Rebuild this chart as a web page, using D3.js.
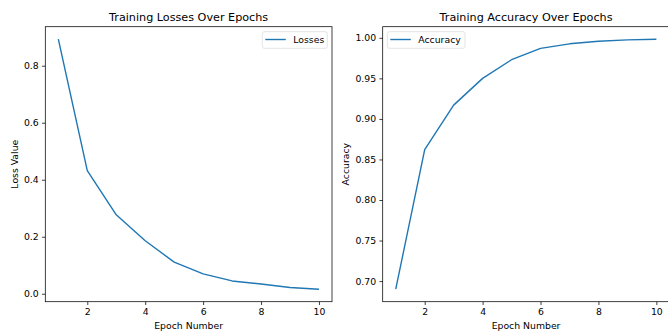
<!DOCTYPE html>
<html><head><meta charset="utf-8">
<script src="https://cdn.jsdelivr.net/npm/d3@7"></script>
<style>body{margin:0;background:#fff;overflow:hidden}svg{display:block}</style>
</head><body>
<svg id="c" width="668" height="333"></svg>
<script>
const epochs = [1,2,3,4,5,6,7,8,9,10];
const losses = [0.893,0.432,0.277,0.186,0.111,0.070,0.045,0.034,0.022,0.016];
const accuracy = [0.690,0.862,0.917,0.950,0.973,0.987,0.9926,0.9958,0.9975,0.9983];
const xTicks = [2,4,6,8,10];
const lossTicks = [0.0,0.2,0.4,0.6,0.8];
const accTicks = [0.70,0.75,0.80,0.85,0.90,0.95,1.00];

const svg = d3.select("#c");
const FONT = "DejaVu Sans, sans-serif";
const color = "#1f77b4";

function pad(ext){const r=ext[1]-ext[0];return [ext[0]-0.05*r, ext[1]+0.05*r];}

function panel(opt){
  const {left,right,top,bottom,ys,yTicks,yFmt,title,ylabel,legend,legendPos,yLabelX} = opt;
  const g = svg.append("g");
  const x = d3.scaleLinear().domain(pad(d3.extent(epochs))).range([left,right]);
  const y = d3.scaleLinear().domain(pad(d3.extent(ys))).range([bottom,top]);
  // line
  g.append("path").datum(epochs.map((e,i)=>[e,ys[i]]))
    .attr("d", d3.line().x(d=>x(d[0])).y(d=>y(d[1])))
    .attr("fill","none").attr("stroke",color).attr("stroke-width",1.4)
    .attr("stroke-linejoin","round").attr("stroke-linecap","butt");
  // axes
  const xa = g.append("g").attr("transform",`translate(0,${bottom})`)
    .call(d3.axisBottom(x).tickValues(xTicks).tickSize(3.3).tickPadding(3.3).tickFormat(d3.format("d")));
  const ya = g.append("g").attr("transform",`translate(${left},0)`)
    .call(d3.axisLeft(y).tickValues(yTicks).tickSize(3.3).tickPadding(3.3).tickFormat(d3.format(yFmt)));
  [xa,ya].forEach(a=>{
    a.select(".domain").remove();
    a.selectAll("line").attr("stroke","#000").attr("stroke-width",0.75);
    a.selectAll("text").attr("font-family",FONT).attr("font-size",9.3).attr("fill","#000");
  });
  // frame
  g.append("rect").attr("x",left).attr("y",top).attr("width",right-left).attr("height",bottom-top)
    .attr("fill","none").attr("stroke","#000").attr("stroke-width",0.75);
  // title
  g.append("text").attr("x",(left+right)/2).attr("y",top-6).attr("text-anchor","middle")
    .attr("font-family",FONT).attr("font-size",11.2).attr("fill","#000").text(title);
  // x label
  g.append("text").attr("x",(left+right)/2).attr("y",329).attr("text-anchor","middle")
    .attr("font-family",FONT).attr("font-size",9.3).attr("fill","#000").text("Epoch Number");
  // y label
  g.append("text").attr("transform",`translate(${yLabelX},${(top+bottom)/2}) rotate(-90)`)
    .attr("text-anchor","middle").attr("font-family",FONT).attr("font-size",9.3).attr("fill","#000").text(ylabel);
  // legend
  const lg = g.append("g");
  lg.append("rect").attr("x",legendPos.x).attr("y",legendPos.y).attr("width",legendPos.w).attr("height",16.6)
    .attr("rx",2).attr("fill","#fff").attr("fill-opacity",0.8).attr("stroke","#d9d9d9").attr("stroke-width",0.75);
  lg.append("line").attr("x1",legendPos.x+3).attr("x2",legendPos.x+23.5)
    .attr("y1",legendPos.y+7.8).attr("y2",legendPos.y+7.8).attr("stroke",color).attr("stroke-width",1.4);
  lg.append("text").attr("x",legendPos.x+31).attr("y",legendPos.y+11.3)
    .attr("font-family",FONT).attr("font-size",9.3).attr("fill","#000").text(legend);
}

panel({left:45.3,right:332,top:26.7,bottom:301.7,ys:losses,yTicks:lossTicks,yFmt:".1f",
  title:"Training Losses Over Epochs",ylabel:"Loss Value",legend:"Losses",
  legendPos:{x:262.3,y:31.7,w:65},yLabelX:18});
panel({left:382.7,right:669.4,top:26.7,bottom:301.7,ys:accuracy,yTicks:accTicks,yFmt:".2f",
  title:"Training Accuracy Over Epochs",ylabel:"Accuracy",legend:"Accuracy",
  legendPos:{x:387.3,y:31.7,w:77.7},yLabelX:349});
</script>
</body></html>
